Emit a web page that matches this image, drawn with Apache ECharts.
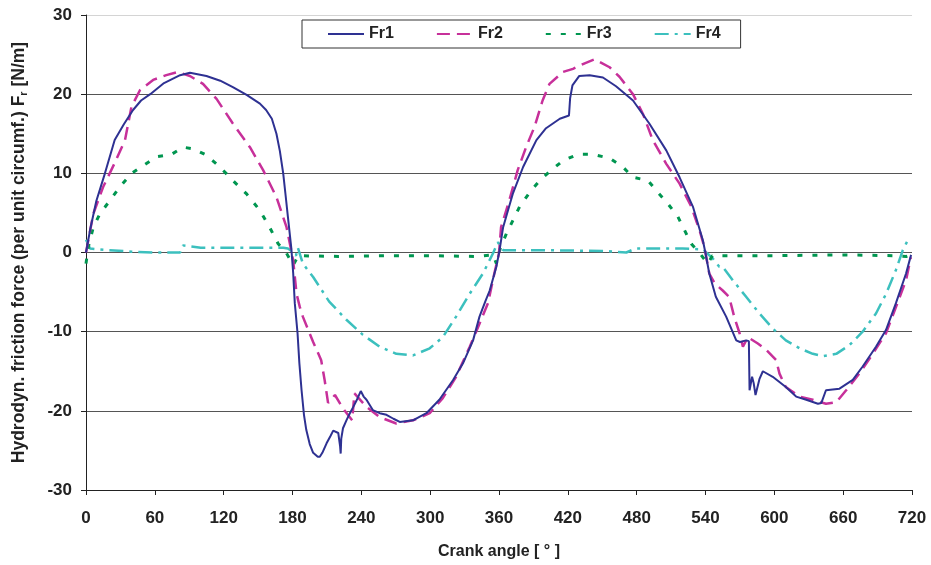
<!DOCTYPE html>
<html><head><meta charset="utf-8">
<script src="https://cdn.jsdelivr.net/npm/echarts@6/dist/echarts.min.js"></script>
<style>html,body{margin:0;padding:0;background:#fff}#c{width:931px;height:565px}</style>
</head><body><div id="c"></div>
<script>
const xTicks = [0, 60, 120, 180, 240, 300, 360, 420, 480, 540, 600, 660, 720];
const yTicks = [-30, -20, -10, 0, 10, 20, 30];

const fr1Angle = [0, 3.5, 9, 16.5, 25, 33, 41, 48, 56, 68, 82, 90.6, 105, 117, 128, 140, 151.6, 157, 162, 166, 169, 171.9, 174, 176, 179, 180.6, 182, 184.4, 186, 187.9, 190, 192, 195, 198, 202, 203.8, 206, 209.7, 213, 215.5, 219.9, 221.5, 222, 222.5, 224, 227, 230, 233, 235.8, 239.5, 242, 244.5, 250, 256, 261.9, 268, 273.5, 285, 296.7, 308, 320, 328.6, 337.4, 343, 348, 351.9, 355, 357.7, 360.5, 363.6, 368, 372, 381, 392.6, 401, 413, 421, 422, 424, 430, 439, 450.6, 462, 476.8, 491, 505.8, 517.4, 529, 537.7, 540, 543.3, 549, 558, 566.8, 570, 575.5, 577.8, 578.4, 580.6, 582, 583.6, 587, 590, 598.6, 610, 619, 627.8, 638, 641, 645, 656.8, 668.4, 677, 688.6, 697.3, 706, 714.8, 719.2];
const fr1Value = [0, 2.8, 6.5, 10, 14.2, 16.2, 18, 19.2, 20, 21.4, 22.4, 22.7, 22.3, 21.7, 20.9, 19.9, 18.8, 18, 16.9, 15, 12.8, 10, 7.2, 4.5, 0.5, -2.6, -6.4, -10.2, -14, -17.4, -20.5, -22.4, -24.2, -25.3, -25.8, -25.8, -25.3, -24.1, -23.2, -22.5, -22.8, -24.5, -25.4, -23.5, -22.2, -21.2, -20.3, -19.5, -18.7, -17.5, -18.2, -18.6, -19.9, -20.3, -20.5, -21, -21.4, -21.2, -20.3, -18.6, -16.1, -14, -11.1, -8.1, -6.2, -4.8, -3.2, -1.8, 0.3, 3.2, 5.4, 7.4, 10.8, 14.2, 15.7, 16.9, 17.3, 19.5, 21.1, 22.3, 22.4, 22.1, 21, 19.2, 16.3, 12.9, 9.5, 5.8, 1.55, -0.1, -2.65, -5.6, -8.1, -11.1, -11.3, -11.1, -11.2, -17.4, -15.7, -16.5, -18, -16, -15, -15.7, -17, -18.2, -18.6, -19.1, -19, -17.4, -17.2, -16.1, -14.4, -11.9, -9.8, -6.4, -2.65, -0.3];

const fr2Angle = [0, 6.4, 15, 25, 34, 39.6, 47, 58.5, 70, 80, 90.6, 102, 113.8, 128, 142.9, 154.4, 166, 174.8, 180.6, 183.5, 186.4, 189, 198, 203.8, 205, 208, 211, 217, 224, 232, 234, 244.5, 256, 270.5, 285, 299.6, 311, 322.6, 334.5, 343, 350.4, 356, 360, 361.8, 369, 376.3, 383.6, 391, 398, 404, 415.7, 424.5, 434.7, 443.4, 456.4, 465, 476.8, 485.5, 494, 505.8, 517.4, 527.6, 534.8, 539, 543.3, 548, 555, 560.6, 565, 569.7, 572.6, 576.9, 585.6, 593, 601.6, 604.5, 610, 622, 633.5, 645, 654, 662.6, 674, 685.8, 697.3, 706, 714.8, 719];
const fr2Value = [0, 4.9, 8.3, 11.3, 14.2, 18.4, 20.5, 21.8, 22.4, 22.8, 22.3, 21.3, 19.4, 16.3, 13.3, 10.4, 7, 3.2, -1, -5.2, -6.9, -8.1, -11.3, -13.2, -13.6, -16.1, -19, -18, -19.7, -21.2, -17.8, -19.5, -20.8, -21.6, -21.2, -20.3, -18.4, -15.7, -11.9, -9, -6.4, -2.6, -0.1, 3.2, 6.6, 10.4, 13.3, 15.9, 19.2, 21.3, 22.8, 23.2, 23.9, 24.4, 23.4, 22.2, 20, 17.5, 14.2, 11.2, 8.7, 5.8, 2.8, 0.7, -2.65, -3.9, -4.8, -5.6, -8.1, -10.2, -11.9, -10.7, -11.5, -12.3, -13.6, -15.3, -17, -18.2, -18.6, -19.1, -18.9, -17.4, -15.3, -12.8, -10.2, -6.9, -3.5, -0.6];

const fr3Angle = [0, 2, 6.4, 12.2, 21, 29.6, 39.8, 50, 61.6, 74.6, 84.7, 93.4, 105, 116.7, 128, 140, 151.6, 160, 167.5, 174.8, 180.6, 185, 220, 260, 300, 340, 354.8, 357.7, 361, 366.5, 378, 386.8, 395.5, 405.6, 415.7, 428.8, 441.9, 456.4, 468, 476.8, 489.8, 498.5, 507, 516, 521.8, 527.6, 535, 542, 546, 600, 660, 705, 715, 719];
const fr3Value = [-1.4, 0.7, 3.2, 4.9, 6.6, 8.3, 10, 11, 12.1, 12.4, 13.3, 13.1, 12.3, 10.8, 9.1, 7.4, 5.3, 3.2, 1.1, -0.1, -1.6, -0.4, -0.5, -0.4, -0.4, -0.5, -0.3, -1.4, 0.5, 2.4, 5.8, 7.6, 9.1, 10.4, 11.6, 12.4, 12.4, 11.9, 10.8, 9.5, 9.1, 7.6, 6.2, 4.5, 2.8, 1.1, -0.1, -1.4, -0.4, -0.4, -0.3, -0.4, -0.5, -0.3];

const fr4Angle = [0, 3.5, 20, 40, 60, 82, 84.5, 100, 130, 150, 172, 176, 180, 183, 184.7, 189, 198, 212, 227, 241.4, 256, 270.5, 285, 299.6, 311, 322.6, 334.5, 346, 354.8, 359, 363.6, 395, 450, 471, 479, 520, 538, 540.6, 546, 552, 555, 563.8, 575.4, 587, 598.6, 610, 622, 633.5, 642.3, 654, 665.5, 677, 688.6, 697.5, 706, 712, 716.3];
const fr4Value = [1.6, 0.5, 0.3, 0.1, 0, 0, 0.9, 0.6, 0.6, 0.6, 0.6, 0.5, 0.1, -0.4, 0.6, -1.4, -3.1, -6.2, -8.5, -10.4, -11.9, -12.8, -13, -12.1, -10.7, -8.1, -5.2, -2.65, -0.1, 1.3, 0.3, 0.3, 0.2, 0, 0.5, 0.5, 0.4, 0, -0.7, -1.8, -1.8, -3.5, -5.6, -7.7, -9.6, -11.1, -12.1, -12.8, -13.1, -12.8, -11.7, -10, -7.7, -5.2, -2.2, 0.3, 1.55];

function pairs(a, v) { return a.map((x, i) => [x, v[i]]); }

const FONT = '"Liberation Sans", Arial, sans-serif';
const chart = echarts.init(document.getElementById('c'), null, { renderer: 'canvas' });
chart.setOption({
  animation: false,
  backgroundColor: '#fff',
  grid: { left: 86, right: 19, top: 15, bottom: 75, containLabel: false, outerBoundsMode: 'none' },
  legend: {
    top: 20, left: 302, width: 438, height: 30,
    padding: [6, 20, 6, 25],
    itemGap: 42, itemWidth: 36, itemHeight: 14,
    borderColor: '#333', borderWidth: 1, backgroundColor: '#fff',
    itemStyle: { opacity: 0 },
    textStyle: { fontFamily: FONT, fontWeight: 'bold', fontSize: 16, color: '#222', padding: [0, 0, 0, 0] },
    data: ['Fr1', 'Fr2', 'Fr3', 'Fr4']
  },
  xAxis: {
    type: 'value', min: 0, max: 720, interval: 60,
    name: 'Crank angle [ ° ]', nameLocation: 'middle', nameGap: 54,
    nameTextStyle: { fontFamily: FONT, fontWeight: 'bold', fontSize: 16, color: '#222' },
    axisLine: { onZero: false, lineStyle: { color: '#222', width: 1 } },
    axisTick: { show: true, length: 5, lineStyle: { color: '#222' } },
    axisLabel: { fontFamily: FONT, fontWeight: 'bold', fontSize: 17, color: '#222', margin: 20 },
    splitLine: { show: false }
  },
  yAxis: {
    type: 'value', min: -30, max: 30, interval: 10,
    name: '{n|Hydrodyn. friction force (per unit circumf.) F}{s|r}{n| [N/m]}',
    nameLocation: 'middle', nameGap: 57, nameRotate: 90,
    nameTextStyle: {
      rich: {
        n: { fontFamily: FONT, fontWeight: 'bold', fontSize: 17.5, color: '#222' },
        s: { fontFamily: FONT, fontWeight: 'bold', fontSize: 11, color: '#222', verticalAlign: 'bottom', padding: [9, 0, 0, 0] }
      }
    },
    axisLine: { show: true, lineStyle: { color: '#222', width: 1 } },
    axisTick: { show: true, length: 5, lineStyle: { color: '#222' } },
    axisLabel: { fontFamily: FONT, fontWeight: 'bold', fontSize: 17, color: '#222', margin: 14 },
    splitLine: { show: true, lineStyle: { color: ['#222', '#555', '#555', '#555', '#555', '#555', '#d4d4d4'], width: 1 } }
  },
  series: [
    { name: 'Fr1', type: 'line', showSymbol: false, symbol: 'none', data: pairs(fr1Angle, fr1Value),
      lineStyle: { color: '#2E3192', width: 2 }, itemStyle: { color: '#2E3192' }, z: 5 },
    { name: 'Fr2', type: 'line', showSymbol: false, symbol: 'none', data: pairs(fr2Angle, fr2Value),
      lineStyle: { color: '#C7309A', width: 2.5, type: [13, 7] }, itemStyle: { color: '#C7309A' }, z: 4 },
    { name: 'Fr3', type: 'line', showSymbol: false, symbol: 'none', data: pairs(fr3Angle, fr3Value),
      lineStyle: { color: '#009650', width: 3, type: [5, 10] }, itemStyle: { color: '#009650' }, z: 3 },
    { name: 'Fr4', type: 'line', showSymbol: false, symbol: 'none', data: pairs(fr4Angle, fr4Value),
      lineStyle: { color: '#3CC0BE', width: 2.5, type: [14, 6, 3, 6] }, itemStyle: { color: '#3CC0BE' }, z: 2 }
  ]
});
</script></body></html>
